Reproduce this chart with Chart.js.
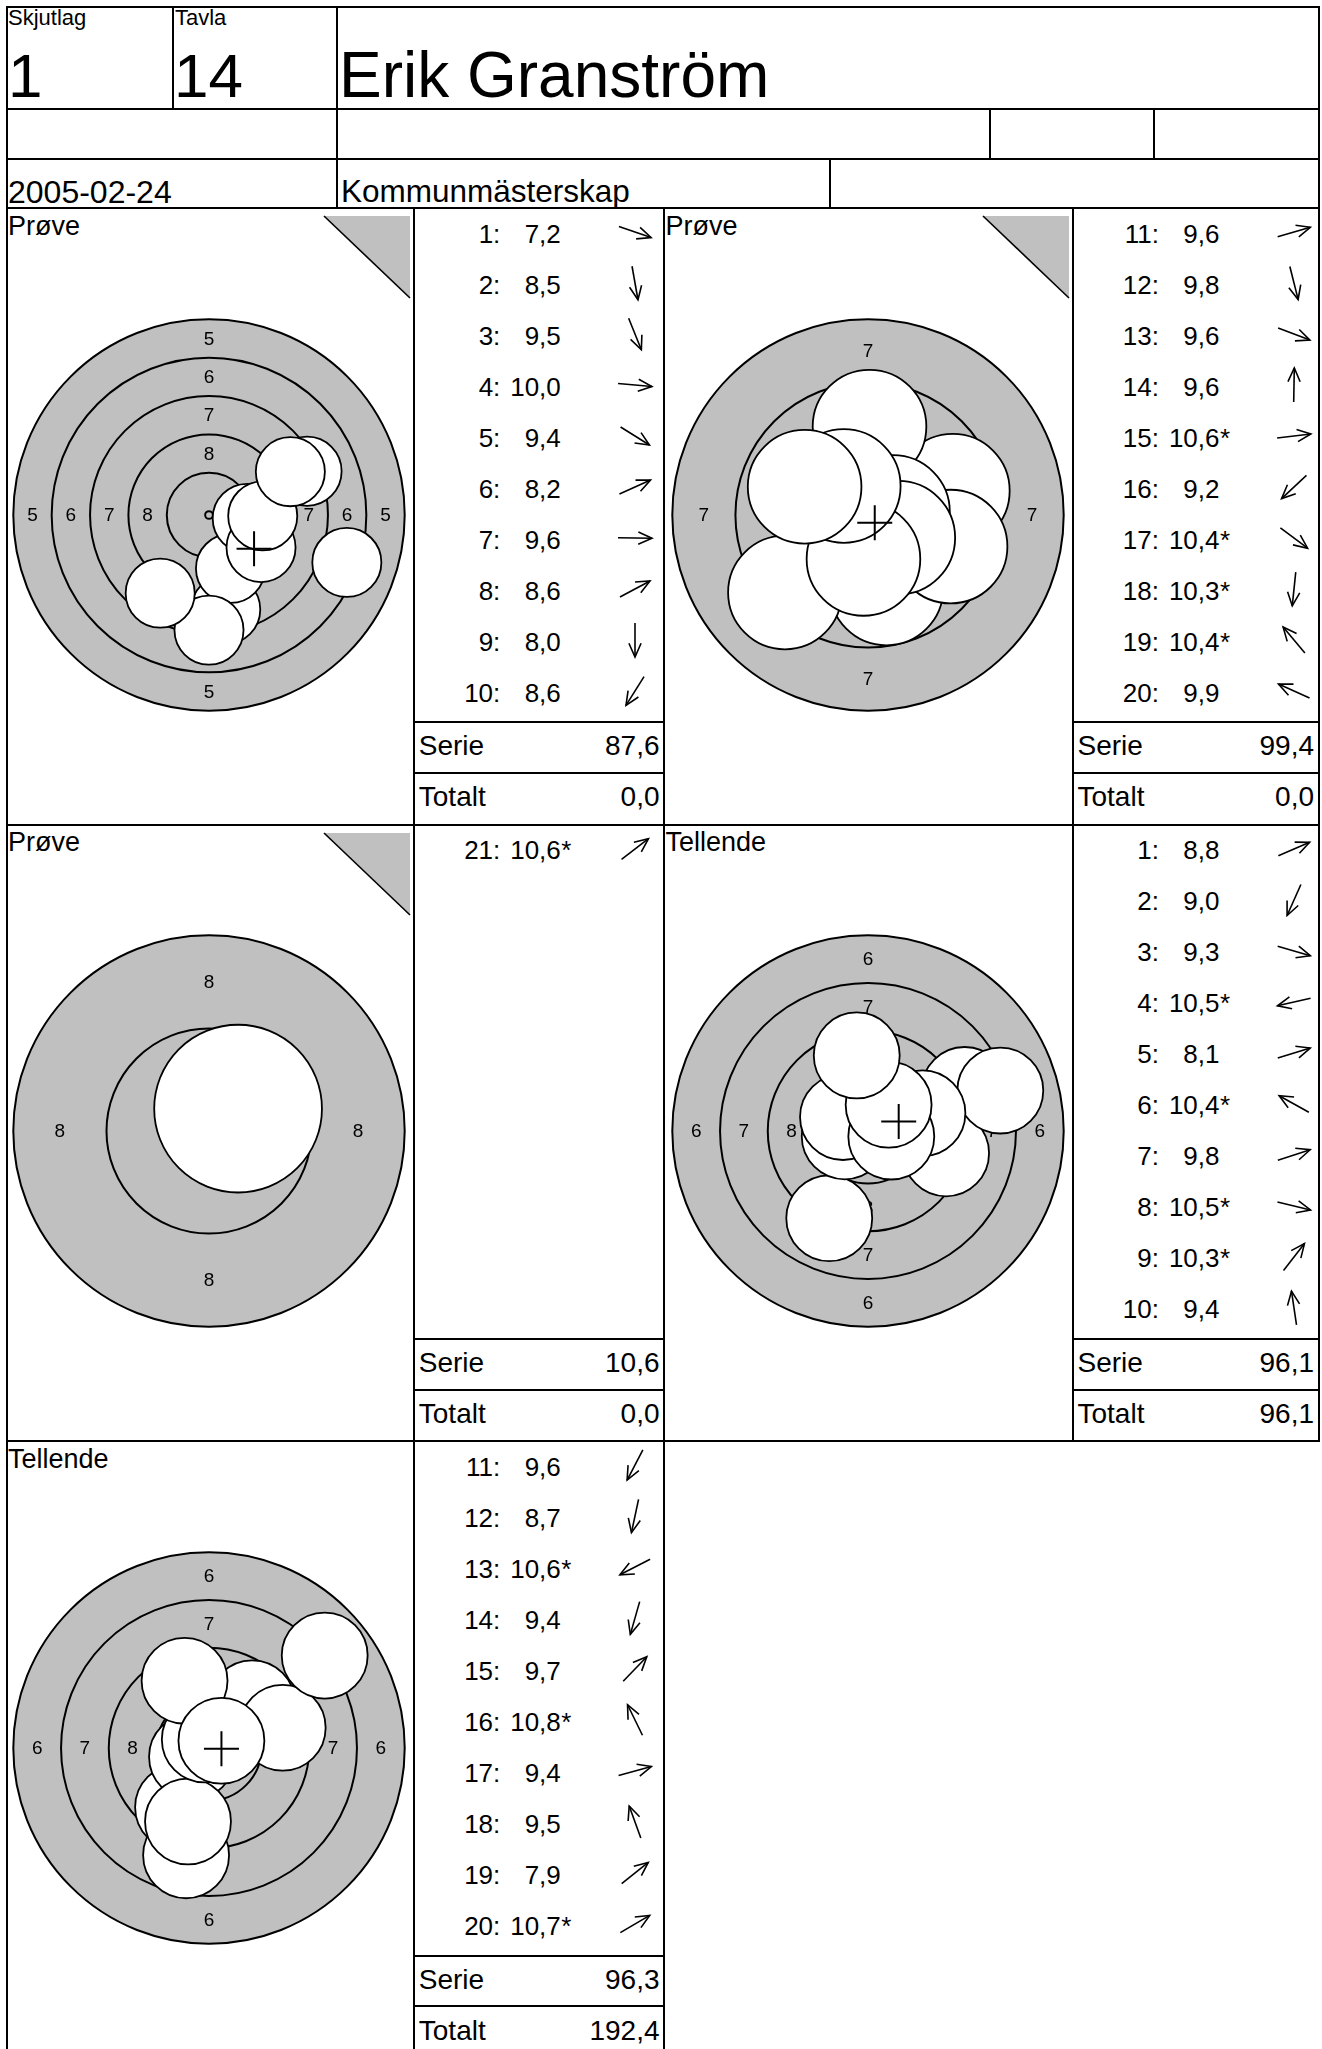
<!DOCTYPE html>
<html>
<head>
<meta charset="utf-8">
<script src="https://cdn.jsdelivr.net/npm/chart.js@4.4.1/dist/chart.umd.min.js"></script>
<style>
  body { margin: 0; background: #fff; }
  #page { position: relative; width: 1322px; height: 2049px; overflow: hidden; font-family: "Liberation Sans", Arial, sans-serif; color: #000; }
  .ln { position: absolute; background: #000; z-index: 5; }
  .t { position: absolute; white-space: nowrap; line-height: 1; z-index: 6; }
  .tgt { position: absolute; z-index: 2; }
  svg { position: absolute; overflow: visible; z-index: 6; }
</style>
</head>
<body>
<div id="page"></div>
<script>
// header
const skjutlag = '1';
const tavla = '14';
const shooterName = 'Erik Granström';
const matchDate = '2005-02-24';
const matchName = 'Kommunmästerskap';

// one entry per target panel
const panelTitles = ['Prøve', 'Prøve', 'Prøve', 'Tellende', 'Tellende'];
const firstShotNo = [1, 11, 21, 1, 11];
const outerRings = [5, 7, 8, 6, 6];

const scores1 = [7.2, 8.5, 9.5, 10.0, 9.4, 8.2, 9.6, 8.6, 8.0, 8.6];
const hitsX1 = [8.98, 1.09, 1.40, 2.49, 3.39, 6.39, 3.50, 5.30, 0.00, -3.18];
const hitsY1 = [-3.09, -6.16, -3.48, -0.22, -2.12, 2.85, -0.06, 2.82, -7.50, -5.09];

const scores2 = [9.6, 9.8, 9.6, 9.6, 10.6, 9.2, 10.4, 10.3, 10.4, 9.9];
const hitsX2 = [3.36, 0.73, 3.27, 0.06, 0.99, -3.29, 1.20, -0.18, -0.96, -2.51];
const hitsY2 = [0.96, -2.91, -1.25, 3.50, 0.12, -3.07, -0.90, -1.74, 1.15, 1.12];

const scores3 = [10.6];
const hitsX3 = [0.78];
const hitsY3 = [0.60];

const scores4 = [8.8, 9.0, 9.3, 10.5, 8.1, 10.4, 9.8, 10.5, 10.3, 9.4];
const hitsX4 = [5.06, -2.03, 4.09, -1.22, 6.93, -1.31, 2.85, 1.22, 1.08, -0.59];
const hitsY4 = [2.15, -4.57, -1.17, -0.28, 2.12, 0.73, 0.93, -0.29, 1.38, 3.96];

const scores5 = [9.6, 8.7, 10.6, 9.4, 9.7, 10.8, 9.4, 9.5, 7.9, 10.7];
const hitsX5 = [-1.62, -1.20, -0.89, -1.10, 2.26, -0.22, 3.86, -1.28, 6.06, 0.65];
const hitsY5 = [-3.10, -5.62, -0.46, -3.85, 2.34, 0.45, 1.06, 3.52, 4.84, 0.38];

const panelScores = [scores1, scores2, scores3, scores4, scores5];
const panelX = [hitsX1, hitsX2, hitsX3, hitsX4, hitsX5];
const panelY = [hitsY1, hitsY2, hitsY3, hitsY4, hitsY5];

// 10 m air rifle geometry (mm)
function ringRadius(n) { return 0.25 + 2.5 * (10 - n); }
const pelletR = 2.25;

// layout
const W = 1322;
const rowTop = [208, 824.7, 1441.4];
const panelPos = [[0, 0], [1, 0], [0, 1], [1, 1], [0, 2]];
const colLeft = [6.5, 664];
const listLeft = [413.8, 1072.5];
const listRight = [664, 1318.5];
const targetCx = [209, 867.5];
const ringPx = 195.7;
const page = document.getElementById('page');

function hl(x1, x2, y) {
  const d = document.createElement('div');
  d.className = 'ln';
  d.style.cssText = `left:${x1 - 1}px;top:${y - 1}px;width:${x2 - x1 + 2}px;height:2px`;
  page.appendChild(d);
}
function vl(x, y1, y2) {
  const d = document.createElement('div');
  d.className = 'ln';
  d.style.cssText = `left:${x - 1}px;top:${y1 - 1}px;width:2px;height:${y2 - y1 + 2}px`;
  page.appendChild(d);
}
function txt(s, x, base, size, align) {
  const d = document.createElement('div');
  d.className = 't';
  d.textContent = s;
  d.style.fontSize = size + 'px';
  d.style.top = (base - 0.8465 * size) + 'px';
  if (align === 'right') d.style.right = (W - x) + 'px';
  else d.style.left = x + 'px';
  page.appendChild(d);
}
function arrow(cx, cy, rad) {
  const deg = -rad * 180 / Math.PI;
  const a = 24 * Math.PI / 180, L = 17, arm = 15;
  const hx = L - arm * Math.cos(a), hy = arm * Math.sin(a);
  page.insertAdjacentHTML('beforeend',
    `<svg width="1" height="1" style="left:${cx}px;top:${cy}px"><g transform="rotate(${deg})" stroke="#000" stroke-width="1.6" fill="none">` +
    `<line x1="${-L}" y1="0" x2="${L}" y2="0"/><polyline points="${hx},${-hy} ${L},0 ${hx},${hy}"/></g></svg>`);
}
function corner(x, y) {
  page.insertAdjacentHTML('beforeend',
    `<svg width="86" height="82" style="left:${x}px;top:${y}px"><polygon points="0,0 86,0 86,82" fill="#c0c0c0"/>` +
    `<line x1="0" y1="0" x2="86" y2="82" stroke="#000" stroke-width="1.6"/></svg>`);
}
const fmt = v => v.toFixed(1).replace('.', ',');
const mean = a => a.reduce((s, v) => s + v, 0) / a.length;

// frame
hl(6.5, 1318.5, 7);
hl(6.5, 1318.5, 108.5);
hl(6.5, 1318.5, 158.5);
hl(6.5, 1318.5, 208);
hl(6.5, 1318.5, 824.7);
hl(6.5, 1318.5, 1441.4);
vl(6.5, 7, 2049);
vl(1318.5, 7, 1441.4);
vl(172.8, 7, 108.5);
vl(337, 7, 208);
vl(989.5, 108.5, 158.5);
vl(1154, 108.5, 158.5);
vl(829.5, 158.5, 208);
vl(413.8, 208, 2049);
vl(664, 208, 2049);
vl(1072.5, 208, 1441.4);

txt('Skjutlag', 8, 26, 22);
txt('Tavla', 175, 26, 22);
txt(skjutlag, 8, 97, 62);
txt(tavla, 174, 97, 62);
txt(shooterName, 339, 97, 64);
txt(matchDate, 8, 203, 32);
txt(matchName, 341, 203, 31.5);

// ring numbers drawn on top of the rings, under the hits
const ringLabels = {
  id: 'ringLabels',
  afterDatasetDraw(chart, args, opts) {
    if (chart.data.datasets[args.index].label !== 'rings') return;
    const ctx = chart.ctx, sx = chart.scales.x, sy = chart.scales.y;
    ctx.save();
    ctx.font = '19px "Liberation Sans"';
    ctx.fillStyle = '#000';
    ctx.textAlign = 'center';
    ctx.textBaseline = 'middle';
    opts.rings.forEach(n => {
      const r = (ringRadius(n) + ringRadius(n + 1)) / 2;
      [[r, 0], [-r, 0], [0, r], [0, -r]].forEach(([x, y]) => {
        ctx.fillText(String(n), sx.getPixelForValue(x), sy.getPixelForValue(y) + 1);
      });
    });
    ctx.restore();
  }
};

function drawTarget(canvas, outer, xs, ys) {
  const half = 200 * ringRadius(outer) / ringPx;
  const rings = [];
  for (let n = outer; n <= 10; n++) rings.push({ x: 0, y: 0, ring: n });
  const labelRings = rings.map(r => r.ring).filter(n => n <= 8);
  const mmPx = ch => Math.abs(ch.scales.x.getPixelForValue(1) - ch.scales.x.getPixelForValue(0));

  const datasets = [];
  if (xs.length > 1) {
    datasets.push({
      label: 'cross', data: [{ x: mean(xs), y: mean(ys) }],
      pointStyle: 'cross', pointRadius: 17.5, borderColor: '#000', borderWidth: 2
    });
  }
  datasets.push({
    label: 'shots', data: xs.map((x, i) => ({ x: x, y: ys[i] })),
    pointRadius: c => c.raw ? pelletR * mmPx(c.chart) : 0,
    backgroundColor: '#fff', borderColor: '#000', borderWidth: 1.8
  });
  datasets.push({
    label: 'rings', data: rings,
    pointRadius: c => c.raw ? ringRadius(c.raw.ring) * mmPx(c.chart) : 0,
    backgroundColor: '#c0c0c0', borderColor: '#000', borderWidth: 2
  });

  new Chart(canvas, {
    type: 'scatter',
    data: { datasets: datasets },
    plugins: [ringLabels],
    options: {
      responsive: false,
      animation: false,
      events: [],
      layout: { padding: 0, autoPadding: false },
      scales: {
        x: { type: 'linear', min: -half, max: half, display: false },
        y: { type: 'linear', min: -half, max: half, display: false }
      },
      plugins: {
        legend: { display: false },
        tooltip: { enabled: false },
        ringLabels: { rings: labelRings }
      }
    }
  });
}

let runningTotal = 0;
panelScores.forEach((sc, p) => {
  const col = panelPos[p][0], row = panelPos[p][1];
  const top = rowTop[row];
  const lx = listLeft[col], rx = listRight[col];
  const xs = panelX[p], ys = panelY[p];

  txt(panelTitles[p], colLeft[col] + 1.5, top + 27.5, 27);
  if (panelTitles[p] === 'Prøve') corner(lx - 90, top + 8);

  sc.forEach((s, i) => {
    const base = top + 34.8 + 51 * i;
    txt((firstShotNo[p] + i) + ':', lx + 86.5, base, 26, 'right');
    txt(fmt(s), lx + 147, base, 26, 'right');
    if (s >= 10.3) txt('*', lx + 147.5, base, 26);
    arrow(lx + 221, base - 11, Math.atan2(ys[i], xs[i]));
  });

  const serie = sc.reduce((a, v) => a + v, 0);
  if (panelTitles[p] === 'Tellende') runningTotal += serie;
  hl(lx, rx, top + 514.4);
  hl(lx, rx, top + 565);
  txt('Serie', lx + 5, top + 548.1, 28);
  txt(fmt(serie), rx - 4.5, top + 548.1, 28, 'right');
  txt('Totalt', lx + 5, top + 599, 28);
  txt(fmt(runningTotal), rx - 4.5, top + 599, 28, 'right');

  const cy = top + 306.5;
  const cv = document.createElement('canvas');
  cv.className = 'tgt';
  cv.width = 400;
  cv.height = 400;
  cv.style.left = (targetCx[col] - 200) + 'px';
  cv.style.top = (cy - 200) + 'px';
  page.appendChild(cv);
  drawTarget(cv, outerRings[p], xs, ys);
});
</script>
</body>
</html>
